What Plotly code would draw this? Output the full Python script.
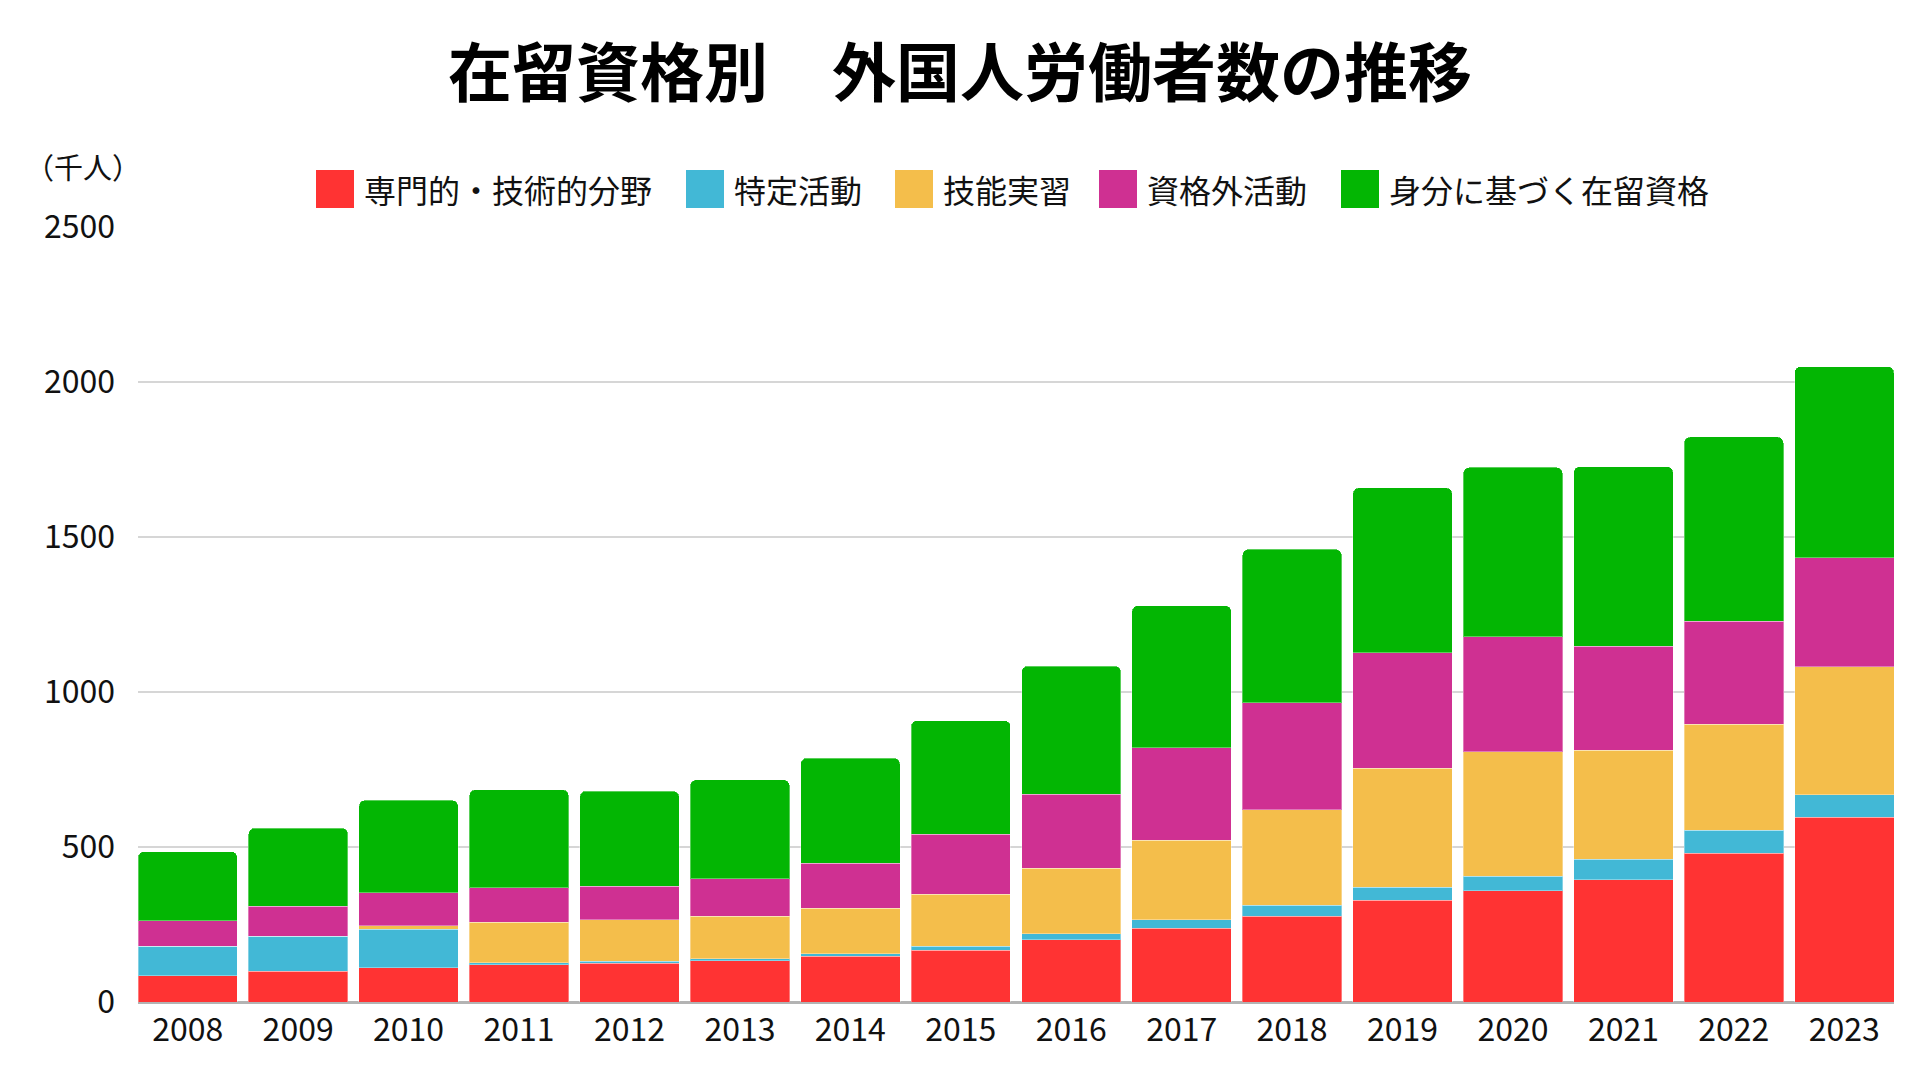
import plotly.graph_objects as go

# 外国人雇用状況（千人）
years = [str(y) for y in range(2008, 2024)]
senmon = [84.9, 100.0, 110.6, 120.9, 124.3, 132.6, 147.3, 167.3, 201.0, 238.4, 276.8, 329.0, 359.5, 394.5, 479.9, 595.9]
tokutei = [95.3, 112.0, 124.0, 6.0, 6.5, 7.5, 9.1, 12.7, 18.7, 26.3, 35.6, 41.1, 45.6, 65.9, 73.4, 72.8]
ginou = [0, 0, 12.0, 131.0, 134.2, 136.6, 145.4, 168.3, 211.1, 257.8, 308.5, 384.0, 402.4, 351.8, 343.3, 412.5]
shikakugai = [82.0, 97.0, 106.0, 110.0, 108.5, 121.0, 146.3, 192.3, 239.6, 297.0, 343.8, 372.9, 370.3, 334.6, 330.9, 352.6]
mibun = [223.0, 252.0, 298.0, 317.0, 307.0, 319.0, 338.7, 367.2, 413.4, 459.1, 495.7, 531.8, 546.5, 580.3, 595.2, 615.9]

names = ["専門的・技術的分野", "特定活動", "技能実習", "資格外活動", "身分に基づく在留資格"]
colors = ["#FF3333", "#42B8D6", "#F4BE4B", "#CF3092", "#03B603"]
series = [senmon, tokutei, ginou, shikakugai, mibun]

FONT = "Noto Sans CJK JP"
OFF = 8  # page body margin
W, H = 1920 - 2 * OFF, 1080 - 2 * OFF
# plot area in page pixels: x 138..1894, y 227..1002
ML, MR = 138 - OFF, W - (1894 - OFF)
MT, MB = 227 - OFF, H - (1002 - OFF)


# page pixel -> paper helpers for the hand-made legend
def px_x(px):
    return (px - OFF - ML) / (W - ML - MR)


def px_y(py):
    return (H - MB - (py - OFF)) / (H - MT - MB)


fig = go.Figure()
for name, vals, col in zip(names, series, colors):
    fig.add_trace(go.Bar(
        x=years, y=vals, name=name,
        marker=dict(color=col, line=dict(color="rgba(255,255,255,0.35)", width=1)),
        hovertemplate="%{x}<br>" + name + ": %{y:.1f}千人<extra></extra>",
    ))

# legend drawn by hand so the swatches can be large
legend_x = [316, 686, 895, 1099, 1341]
shapes = []
annotations = []
for name, col, lx in zip(names, colors, legend_x):
    shapes.append(dict(type="rect", xref="paper", yref="paper",
                       x0=px_x(lx), x1=px_x(lx + 38), y0=px_y(208), y1=px_y(170),
                       fillcolor=col, line=dict(width=0)))
    annotations.append(dict(xref="paper", yref="paper", x=px_x(lx + 46), y=px_y(189),
                            xanchor="left", yanchor="middle", showarrow=False,
                            text=name, font=dict(family=FONT, size=32, color="#111111")))

annotations.append(dict(xref="paper", yref="paper", x=px_x(23), y=px_y(166),
                        xanchor="left", yanchor="middle", showarrow=False,
                        text="（千人）", font=dict(family=FONT, size=29, color="#111111")))

fig.update_layout(
    width=W, height=H,
    barmode="stack", bargap=0.1, barcornerradius=6,
    showlegend=False,
    title=dict(text="<b>在留資格別　外国人労働者数の推移</b>",
               x=0.5, xanchor="center", y=1 - (74 - OFF) / H, yanchor="middle",
               font=dict(family=FONT, size=64, color="#000000", weight=900)),
    margin=dict(l=ML, r=MR, t=MT, b=MB),
    paper_bgcolor="white", plot_bgcolor="white",
    font=dict(family=FONT, size=32, color="#111111"),
    xaxis=dict(range=[-0.45, 15.45], showgrid=False, ticks="", ticklabelstandoff=6,
               tickfont=dict(family=FONT, size=32, color="#111111")),
    yaxis=dict(range=[0, 2500], dtick=500, showgrid=True, gridcolor="#D6D6D6", gridwidth=1.5,
               zeroline=True, zerolinecolor="#B3B3B3", zerolinewidth=2.5,
               ticks="", ticklabelstandoff=22,
               tickfont=dict(family=FONT, size=32, color="#111111")),
    shapes=shapes,
    annotations=annotations,
)

fig.write_html("out.html")
